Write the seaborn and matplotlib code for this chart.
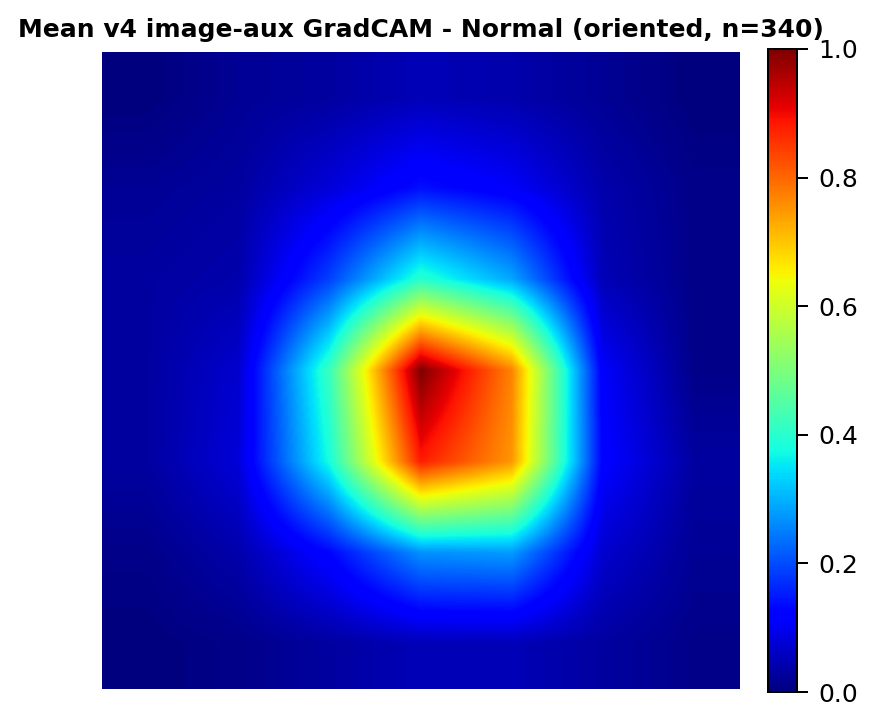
import matplotlib
matplotlib.use('Agg')
import matplotlib.pyplot as plt
import numpy as np
import seaborn as sns

title = 'Mean v4 image-aux GradCAM - Normal (oriented, n=340)'

# mean cam on the 7x7 feature grid
row0 = [0.00, 0.02, 0.03, 0.05, 0.04, 0.02, 0.00]
row1 = [0.02, 0.03, 0.08, 0.14, 0.11, 0.04, 0.01]
row2 = [0.03, 0.04, 0.19, 0.40, 0.29, 0.05, 0.01]
row3 = [0.03, 0.07, 0.42, 1.00, 0.77, 0.11, 0.01]
row4 = [0.03, 0.08, 0.38, 0.88, 0.75, 0.12, 0.03]
row5 = [0.01, 0.04, 0.13, 0.27, 0.28, 0.07, 0.02]
row6 = [0.00, 0.01, 0.03, 0.05, 0.05, 0.03, 0.01]
cam = np.array([row0, row1, row2, row3, row4, row5, row6])

W, H = 875, 724
fig = plt.figure(figsize=(W / 180, H / 180), dpi=180)
ax = fig.add_axes([102 / W, 1 - 689 / H, 638 / W, 637 / H])
cax = fig.add_axes([768 / W, 1 - 692 / H, 29 / W, 643 / H])

# heatmap gives the axes and colorbar, the mesh is swapped for a smooth image
sns.heatmap(cam, cmap='jet', vmin=0, vmax=1, ax=ax, cbar_ax=cax,
            xticklabels=False, yticklabels=False)
mesh = ax.collections[0]
mesh.set_visible(False)
ax.imshow(cam, cmap='jet', vmin=0, vmax=1, interpolation='bilinear',
          extent=(0, 7, 7, 0), aspect='auto')
ax.set_axis_off()

cbar = mesh.colorbar
cbar.set_ticks([0, 0.2, 0.4, 0.6, 0.8, 1.0])
cbar.outline.set_visible(True)
cbar.outline.set_edgecolor('black')
cbar.outline.set_linewidth(0.8)
cax.tick_params(labelsize=10, length=4.5, width=0.8, pad=4.2)

fig.text(421 / W, 1 - 30 / H, title, ha='center', va='center',
         fontsize=10, fontweight='bold')

fig.savefig('out.png', dpi=180)
